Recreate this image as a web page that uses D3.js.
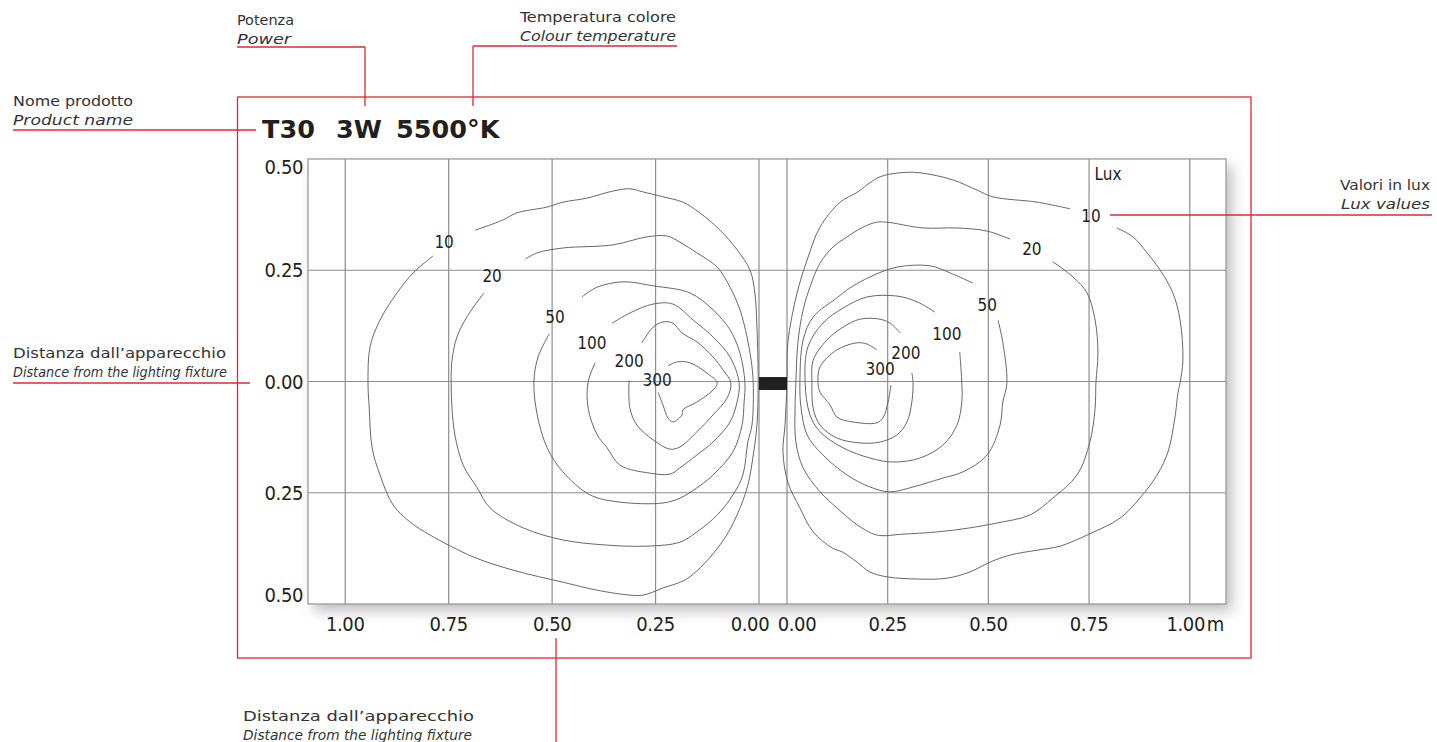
<!DOCTYPE html>
<html>
<head>
<meta charset="utf-8">
<script src="https://cdn.jsdelivr.net/npm/d3@7"></script>
<style>
  body { margin: 0; background: #fff; }
  svg { display: block; }
</style>
</head>
<body>
<svg id="chart" width="1437" height="742"></svg>
<script>
// ---- data (metres from the fixture, lux levels) ----
const luxLevels = [10, 20, 50, 100, 200, 300];
const xTicks = [0, 0.25, 0.5, 0.75, 1];
const yTicks = [0.5, 0.25, 0, -0.25, -0.5];
const titleParts = ["T30", "3W", "5500°K"];
const fixtureY = [0.010, -0.019];

// left half (distance measured leftwards)
const left10 = [[0.686,0.340],[0.619,0.363],[0.585,0.379],[0.512,0.392],[0.474,0.403],[0.416,0.412],[0.353,0.428],[0.312,0.433],[0.280,0.426],[0.232,0.415],[0.184,0.403],[0.143,0.379],[0.094,0.340],[0.053,0.296],[0.022,0.251],[0.010,0.199],[0.005,0.122],[0.002,-0.003],[0.005,-0.098],[0.015,-0.172],[0.027,-0.233],[0.053,-0.300],[0.094,-0.367],[0.172,-0.442],[0.232,-0.464],[0.280,-0.480],[0.312,-0.480],[0.391,-0.469],[0.474,-0.451],[0.594,-0.424],[0.691,-0.394],[0.795,-0.345],[0.843,-0.316],[0.884,-0.278],[0.916,-0.210],[0.935,-0.149],[0.942,-0.060],[0.945,-0.001],[0.940,0.078],[0.916,0.138],[0.875,0.199],[0.836,0.244],[0.788,0.282]];
const left20 = [[0.565,0.275],[0.536,0.289],[0.474,0.300],[0.353,0.307],[0.271,0.325],[0.222,0.327],[0.191,0.313],[0.150,0.289],[0.101,0.257],[0.070,0.212],[0.046,0.161],[0.029,0.100],[0.019,0.048],[0.014,-0.003],[0.017,-0.098],[0.027,-0.136],[0.039,-0.210],[0.063,-0.255],[0.101,-0.300],[0.150,-0.338],[0.191,-0.361],[0.271,-0.370],[0.377,-0.367],[0.474,-0.356],[0.570,-0.329],[0.650,-0.284],[0.681,-0.239],[0.715,-0.188],[0.735,-0.120],[0.742,-0.060],[0.744,-0.001],[0.742,0.048],[0.730,0.100],[0.706,0.145],[0.665,0.199]];
const left50 = [[0.428,0.190],[0.391,0.212],[0.329,0.224],[0.256,0.215],[0.167,0.199],[0.111,0.161],[0.070,0.116],[0.046,0.064],[0.034,-0.003],[0.036,-0.046],[0.041,-0.098],[0.063,-0.158],[0.111,-0.210],[0.150,-0.239],[0.191,-0.262],[0.232,-0.273],[0.336,-0.271],[0.408,-0.255],[0.474,-0.203],[0.512,-0.149],[0.536,-0.075],[0.544,-0.001],[0.534,0.055],[0.507,0.107]];
const left100 = [[0.355,0.131],[0.312,0.154],[0.256,0.174],[0.208,0.174],[0.159,0.138],[0.111,0.100],[0.070,0.055],[0.048,-0.003],[0.053,-0.046],[0.070,-0.091],[0.111,-0.136],[0.150,-0.165],[0.191,-0.194],[0.215,-0.208],[0.263,-0.206],[0.336,-0.188],[0.367,-0.149],[0.391,-0.120],[0.413,-0.060],[0.413,-0.001],[0.396,0.042]];
const left200 = [[0.283,0.087],[0.256,0.122],[0.232,0.134],[0.208,0.131],[0.186,0.109],[0.150,0.089],[0.111,0.055],[0.087,0.026],[0.068,-0.003],[0.077,-0.037],[0.111,-0.075],[0.150,-0.113],[0.191,-0.147],[0.215,-0.152],[0.256,-0.131],[0.295,-0.098],[0.312,-0.060],[0.314,0.003]];
const left300 = [[0.220,0.035],[0.198,0.044],[0.167,0.042],[0.126,0.019],[0.101,-0.003],[0.111,-0.019],[0.150,-0.046],[0.184,-0.064],[0.186,-0.075],[0.208,-0.091],[0.220,-0.082],[0.232,-0.053],[0.244,-0.024]];

// right half
const right10 = [[0.703,0.388],[0.621,0.403],[0.511,0.415],[0.472,0.430],[0.412,0.453],[0.330,0.469],[0.281,0.469],[0.231,0.460],[0.199,0.442],[0.176,0.426],[0.132,0.403],[0.082,0.347],[0.050,0.273],[0.025,0.199],[0.002,0.087],[0.000,-0.003],[-0.005,-0.098],[-0.010,-0.158],[0.002,-0.226],[0.032,-0.284],[0.065,-0.338],[0.112,-0.374],[0.137,-0.383],[0.174,-0.406],[0.206,-0.428],[0.248,-0.439],[0.330,-0.444],[0.397,-0.442],[0.454,-0.428],[0.504,-0.406],[0.554,-0.390],[0.621,-0.379],[0.678,-0.370],[0.745,-0.345],[0.827,-0.307],[0.876,-0.262],[0.919,-0.210],[0.946,-0.158],[0.963,-0.082],[0.971,-0.024],[0.976,-0.003],[0.983,0.048],[0.976,0.138],[0.958,0.199],[0.926,0.251],[0.894,0.289],[0.859,0.325],[0.819,0.345]];
const right20 = [[0.554,0.320],[0.497,0.338],[0.422,0.345],[0.338,0.345],[0.248,0.358],[0.223,0.358],[0.189,0.347],[0.149,0.325],[0.114,0.302],[0.082,0.266],[0.057,0.212],[0.040,0.161],[0.027,0.087],[0.022,-0.003],[0.020,-0.060],[0.022,-0.136],[0.040,-0.194],[0.082,-0.248],[0.124,-0.284],[0.174,-0.322],[0.223,-0.345],[0.288,-0.343],[0.372,-0.338],[0.454,-0.329],[0.521,-0.318],[0.603,-0.300],[0.660,-0.262],[0.720,-0.210],[0.752,-0.136],[0.765,-0.060],[0.767,-0.003],[0.772,0.064],[0.765,0.138],[0.745,0.199],[0.710,0.235],[0.660,0.269]];
const right50 = [[0.462,0.221],[0.405,0.244],[0.355,0.260],[0.273,0.257],[0.206,0.235],[0.156,0.210],[0.124,0.188],[0.065,0.145],[0.040,0.093],[0.032,-0.003],[0.035,-0.060],[0.050,-0.120],[0.089,-0.165],[0.149,-0.210],[0.206,-0.237],[0.256,-0.248],[0.313,-0.237],[0.387,-0.217],[0.437,-0.203],[0.497,-0.165],[0.529,-0.098],[0.536,-0.046],[0.546,-0.003],[0.536,0.087],[0.524,0.138]];
const right100 = [[0.367,0.156],[0.323,0.179],[0.273,0.192],[0.199,0.190],[0.139,0.165],[0.089,0.131],[0.052,0.078],[0.045,-0.003],[0.057,-0.075],[0.082,-0.113],[0.139,-0.149],[0.206,-0.172],[0.263,-0.181],[0.330,-0.172],[0.387,-0.143],[0.422,-0.098],[0.434,-0.046],[0.434,-0.003],[0.429,0.066]];
const right200 = [[0.281,0.109],[0.256,0.131],[0.231,0.140],[0.181,0.140],[0.139,0.122],[0.099,0.093],[0.065,0.048],[0.062,-0.003],[0.065,-0.060],[0.082,-0.098],[0.124,-0.127],[0.181,-0.138],[0.231,-0.136],[0.273,-0.120],[0.298,-0.091],[0.310,-0.046],[0.313,-0.003],[0.310,0.019]];
const right300 = [[0.223,0.071],[0.199,0.084],[0.174,0.087],[0.124,0.071],[0.082,0.033],[0.077,-0.003],[0.082,-0.024],[0.107,-0.053],[0.124,-0.080],[0.164,-0.091],[0.223,-0.093],[0.238,-0.082],[0.251,-0.046],[0.258,-0.008]];

// where the lux numbers sit on each contour
const leftLabelPos = [[0.761,0.313],[0.645,0.237],[0.493,0.145],[0.404,0.087],[0.314,0.046],[0.246,0.003]];
const rightLabelPos = [[0.755,0.372],[0.608,0.298],[0.497,0.172],[0.397,0.107],[0.295,0.064],[0.231,0.028]];
const luxTitlePos = [0.797, 0.466];

const leftContours = [left10, left20, left50, left100, left200, left300];
const rightContours = [right10, right20, right50, right100, right200, right300];

// ---- setup ----
const svg = d3.select("#chart");
const RED = "#dc2a32";
const FONT = "'DejaVu Sans Condensed', 'DejaVu Sans', sans-serif";
const TEXT = "#231f20";

const xL = d3.scaleLinear().domain([1.09, 0]).range([308, 759]);
const xR = d3.scaleLinear().domain([0, 1.09]).range([787, 1226]);
const y = d3.scaleLinear().domain([0.5, -0.5]).range([159, 604]);

const plotLeft = xL(1.09), plotRight = xR(1.09), plotTop = y(0.5), plotBottom = y(-0.5);

// soft drop shadow behind the plot
const filter = svg.append("defs").append("filter")
    .attr("id", "shadow")
    .attr("x", "-10%").attr("y", "-15%")
    .attr("width", "125%").attr("height", "135%");
filter.append("feDropShadow")
    .attr("dx", 6).attr("dy", 7)
    .attr("stdDeviation", 7)
    .attr("flood-color", "#000")
    .attr("flood-opacity", 0.25);

svg.append("rect")
    .attr("x", plotLeft).attr("y", plotTop)
    .attr("width", plotRight - plotLeft).attr("height", plotBottom - plotTop)
    .attr("fill", "#fff")
    .attr("filter", "url(#shadow)");

// grid
const grid = svg.append("g").attr("stroke", "#8e8e8e").attr("stroke-width", 1.2);
grid.selectAll(".vl").data(xTicks).enter().append("line")
    .attr("x1", d => xL(d)).attr("x2", d => xL(d))
    .attr("y1", plotTop).attr("y2", plotBottom);
grid.selectAll(".vr").data(xTicks).enter().append("line")
    .attr("x1", d => xR(d)).attr("x2", d => xR(d))
    .attr("y1", plotTop).attr("y2", plotBottom);
grid.selectAll(".h").data(yTicks.slice(1, -1)).enter().append("line")
    .attr("x1", plotLeft).attr("x2", plotRight)
    .attr("y1", d => y(d)).attr("y2", d => y(d));

svg.append("rect")
    .attr("x", plotLeft).attr("y", plotTop)
    .attr("width", plotRight - plotLeft).attr("height", plotBottom - plotTop)
    .attr("fill", "none")
    .attr("stroke", "#9b9b9b")
    .attr("stroke-width", 1.3);

// contour lines
const lineL = d3.line().x(d => xL(d[0])).y(d => y(d[1])).curve(d3.curveCatmullRom.alpha(0.5));
const lineR = d3.line().x(d => xR(d[0])).y(d => y(d[1])).curve(d3.curveCatmullRom.alpha(0.5));

svg.append("g").selectAll("path").data(leftContours).enter().append("path")
    .attr("d", lineL)
    .attr("fill", "none").attr("stroke", "#686868").attr("stroke-width", 1);
svg.append("g").selectAll("path").data(rightContours).enter().append("path")
    .attr("d", lineR)
    .attr("fill", "none").attr("stroke", "#686868").attr("stroke-width", 1);

// the fixture itself
svg.append("rect")
    .attr("x", xL(0)).attr("y", y(fixtureY[0]))
    .attr("width", xR(0) - xL(0))
    .attr("height", y(fixtureY[1]) - y(fixtureY[0]))
    .attr("fill", "#231f20");

// lux labels
const labG = svg.append("g")
    .attr("font-family", FONT).attr("font-size", 17)
    .attr("fill", TEXT).attr("text-anchor", "middle");
labG.selectAll(".ll").data(luxLevels).enter().append("text")
    .attr("x", (d, i) => xL(leftLabelPos[i][0]))
    .attr("y", (d, i) => y(leftLabelPos[i][1]))
    .attr("dy", "0.35em")
    .text(d => d);
labG.selectAll(".rl").data(luxLevels).enter().append("text")
    .attr("x", (d, i) => xR(rightLabelPos[i][0]))
    .attr("y", (d, i) => y(rightLabelPos[i][1]))
    .attr("dy", "0.35em")
    .text(d => d);
labG.append("text")
    .attr("x", xR(luxTitlePos[0])).attr("y", y(luxTitlePos[1]))
    .attr("dy", "0.35em")
    .text("Lux");

// axis tick labels
const fmt = d3.format(".2f");
const tickG = svg.append("g")
    .attr("font-family", FONT).attr("font-size", 20)
    .attr("fill", TEXT).attr("letter-spacing", -0.4);

tickG.selectAll(".yt").data(yTicks).enter().append("text")
    .attr("x", plotLeft - 5)
    .attr("y", d => Math.min(Math.max(y(d), plotTop + 8), plotBottom - 9))
    .attr("dy", "0.35em")
    .attr("text-anchor", "end")
    .text(d => fmt(Math.abs(d)));

const tickY = plotBottom + 27;
tickG.selectAll(".xl").data(xTicks).enter().append("text")
    .attr("x", d => d === 0 ? xL(d) - 9 : xL(d))
    .attr("y", tickY)
    .attr("text-anchor", "middle")
    .text(d => fmt(d));
tickG.selectAll(".xr").data(xTicks).enter().append("text")
    .attr("x", d => d === 0 ? xR(d) + 10 : (d === 1 ? xR(d) - 4 : xR(d)))
    .attr("y", tickY)
    .attr("text-anchor", "middle")
    .text(d => fmt(d));
tickG.append("text")
    .attr("x", xR(1) + 17).attr("y", tickY)
    .text("m");

// product title
const titleX = [262, 336, 396];
svg.append("g")
    .attr("font-family", "'DejaVu Sans', sans-serif")
    .attr("font-weight", "bold").attr("font-size", 25.5)
    .attr("fill", TEXT)
    .selectAll("text").data(titleParts).enter().append("text")
    .attr("x", (d, i) => titleX[i]).attr("y", 138)
    .text(d => d);

// ---- red callouts ----
const red = svg.append("g").attr("stroke", RED).attr("stroke-width", 1.3).attr("fill", "none");
red.append("rect").attr("x", 237.5).attr("y", 97).attr("width", 1013.5).attr("height", 561);
[
    [13, 130, 256, 130],
    [237, 47, 365, 47], [365, 47, 365, 106],
    [473, 46, 677, 46], [473, 46, 473, 106],
    [1110, 215, 1432, 215],
    [13, 383, 250, 383],
    [556, 638, 556, 742]
].forEach(s => red.append("line")
    .attr("x1", s[0]).attr("y1", s[1]).attr("x2", s[2]).attr("y2", s[3]));

// callout captions: italian on top, english in italics underneath
const notes = [
    { it: "Nome prodotto", en: "Product name", x: 13, y: 106, wi: 120, we: 120, anchor: "start" },
    { it: "Potenza", en: "Power", x: 237, y: 25, wi: 57, we: 54, anchor: "start" },
    { it: "Temperatura colore", en: "Colour temperature", x: 676, y: 22, wi: 156, we: 156, anchor: "end" },
    { it: "Valori in lux", en: "Lux values", x: 1430, y: 190, wi: 90, we: 89, anchor: "end" },
    { it: "Distanza dall\u2019apparecchio", en: "Distance from the lighting fixture", x: 13, y: 358, wi: 213, we: 214, anchor: "start" },
    { it: "Distanza dall\u2019apparecchio", en: "Distance from the lighting fixture", x: 243, y: 721, wi: 231, we: 229, anchor: "start" }
];
const noteG = svg.append("g").attr("font-family", FONT).attr("font-size", 14.5).attr("fill", "#333");
notes.forEach(n => {
    noteG.append("text")
        .attr("x", n.x).attr("y", n.y)
        .attr("text-anchor", n.anchor)
        .attr("textLength", n.wi).attr("lengthAdjust", "spacingAndGlyphs")
        .text(n.it);
    noteG.append("text")
        .attr("x", n.x).attr("y", n.y + 19)
        .attr("text-anchor", n.anchor)
        .attr("font-style", "italic")
        .attr("textLength", n.we).attr("lengthAdjust", "spacingAndGlyphs")
        .text(n.en);
});
</script>
</body>
</html>
